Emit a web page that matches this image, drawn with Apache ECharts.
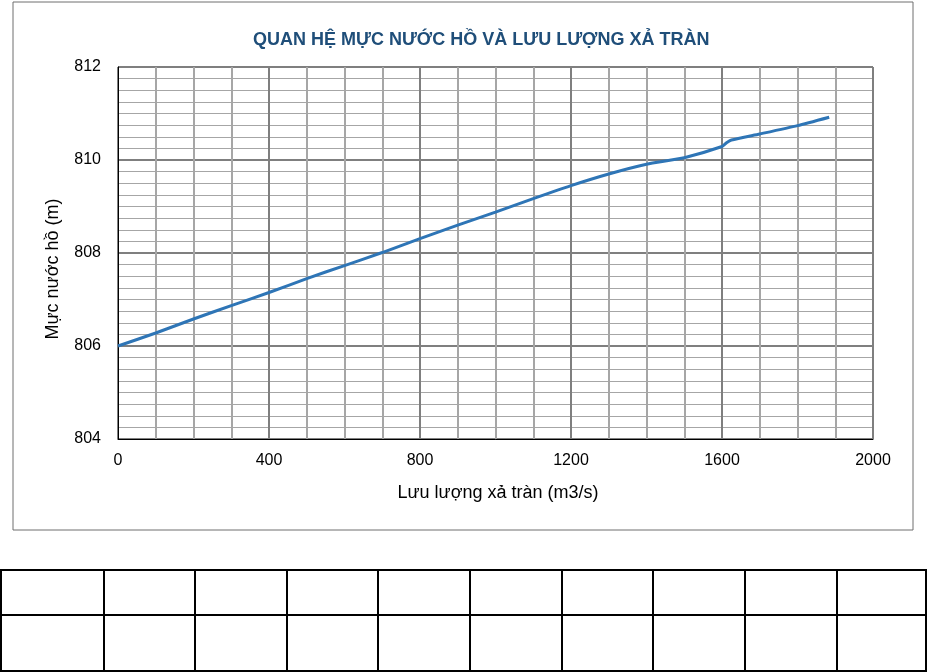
<!DOCTYPE html>
<html>
<head>
<meta charset="utf-8">
<script src="https://cdn.jsdelivr.net/npm/echarts@6/dist/echarts.min.js"></script>
<style>
html,body{margin:0;padding:0;background:#fff;}
#chart{width:927px;height:672px;}
</style>
</head>
<body>
<div id="chart"></div>
<script>
const titleText = 'QUAN HỆ MỰC NƯỚC HỒ VÀ LƯU LƯỢNG XẢ TRÀN';
const xAxisTitle = 'Lưu lượng xả tràn (m3/s)';
const yAxisTitle = 'Mực nước hồ (m)';
const flows  = [0, 100, 200, 300, 400, 500, 600, 700, 800, 900, 1000, 1100, 1200, 1300, 1400, 1500, 1600, 1612, 1625, 1700, 1800, 1884];
const levels = [806.00, 806.28, 806.58, 806.87, 807.15, 807.45, 807.73, 808.01, 808.31, 808.60, 808.88, 809.17, 809.45, 809.70, 809.91, 810.05, 810.29, 810.37, 810.43, 810.56, 810.74, 810.92];
const xTicks = [0, 400, 800, 1200, 1600, 2000];
const yTicks = [804, 806, 808, 810, 812];

const points = flows.map((f, i) => [f, levels[i]]);
const font = '"Liberation Sans", Arial, sans-serif';

// table lines (decorative)
const colX = [1, 104, 195, 287, 378, 470, 562, 653, 745, 837, 926];
const tableTop = 570, tableMid = 615, tableBot = 671;
const tableEls = [];
[tableTop, tableMid, tableBot].forEach(y => tableEls.push({type:'line', shape:{x1:0, y1:y, x2:927, y2:y}, style:{stroke:'#000', lineWidth:2}}));
colX.forEach(x => tableEls.push({type:'line', shape:{x1:x, y1:tableTop, x2:x, y2:tableBot}, style:{stroke:'#000', lineWidth:2}}));

const minorColors = ['#7f7f7f', '#a6a6a6', '#a6a6a6', '#a6a6a6', '#a6a6a6', '#a6a6a6', '#a6a6a6', '#a6a6a6'];

const chart = echarts.init(document.getElementById('chart'));
chart.setOption({
  animation: false,
  title: {
    text: titleText,
    left: 248, top: 26,
    textStyle: {fontFamily: font, fontWeight: 'bold', fontSize: 18, color: '#1F4E79'}
  },
  grid: {left: 118, right: 54, top: 67, bottom: 233, show: true, borderColor: '#000', borderWidth: 1, backgroundColor: 'transparent'},
  xAxis: {
    type: 'value', min: 0, max: 2000, interval: 400,
    axisLine: {show: true, lineStyle: {color: '#000', width: 1}},
    axisTick: {show: false},
    axisLabel: {margin: 14, color: '#000', fontFamily: font, fontSize: 16,
      formatter: v => xTicks.includes(v) ? String(v) : ''},
    splitLine: {show: true, lineStyle: {color: '#7f7f7f', width: 2}},
    minorTick: {show: false, splitNumber: 4},
    minorSplitLine: {show: true, lineStyle: {color: '#a6a6a6', width: 2}}
  },
  yAxis: [{
    type: 'value', min: 804, max: 812, interval: 0.25,
    axisLine: {show: true, lineStyle: {color: '#000', width: 1}},
    axisTick: {show: false},
    axisLabel: {margin: 17, color: '#000', fontFamily: font, fontSize: 16,
      formatter: v => yTicks.includes(v) ? String(v) : ''},
    splitLine: {show: true, lineStyle: {color: minorColors, width: 1}}
  }, {
    type: 'value', min: 804, max: 812, interval: 2, position: 'left',
    axisLine: {show: false}, axisTick: {show: false}, axisLabel: {show: false},
    splitLine: {show: true, lineStyle: {color: '#7f7f7f', width: 2}}
  }],
  graphic: [
    {type:'rect', z: -10, shape:{x:13, y:2, width:900, height:528}, style:{fill:'none', stroke:'#6f6f6f', lineWidth:1}},
    {type:'text', x:53, y:269, rotation: Math.PI/2, style:{text: yAxisTitle, align:'center', verticalAlign:'middle', font: '18px ' + font, fill:'#000'}},
    {type:'text', x:498, y:493, style:{text: xAxisTitle, align:'center', verticalAlign:'middle', font: '18px ' + font, fill:'#000'}},
    ...tableEls
  ],
  series: [{
    type: 'line',
    yAxisIndex: 0,
    data: points,
    smooth: 0.2,
    showSymbol: false,
    lineStyle: {color: '#2E75B6', width: 3},
    z: 5
  }]
});
</script>
</body>
</html>
